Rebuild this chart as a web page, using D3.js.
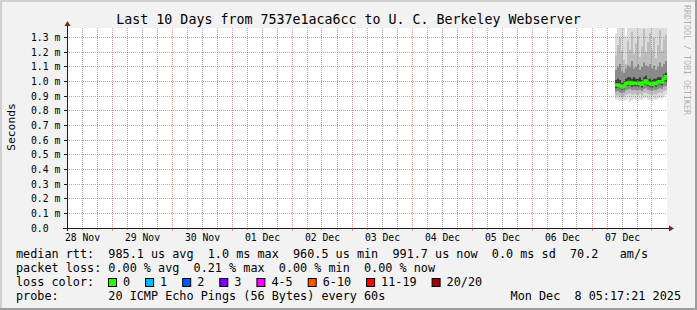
<!DOCTYPE html>
<html>
<head>
<meta charset="utf-8">
<script src="https://cdn.jsdelivr.net/npm/d3@7"></script>
<style>
  body { margin: 0; background: #f2f2f2; }
  text { font-family: "DejaVu Sans Mono", monospace; white-space: pre; }
</style>
</head>
<body>
<div id="chart"></div>
<script>
// chart size and plot box
var svgWidth = 697, svgHeight = 310;
var plotLeft = 67, plotRight = 667, plotTop = 28, plotBottom = 228;

// time window of the graph
var tStart = new Date(2025, 10, 28, 6, 0, 0);
var tEnd   = new Date(2025, 11, 8, 6, 0, 0);

// tick labels
var dayLabels = ["28 Nov", "29 Nov", "30 Nov", "01 Dec", "02 Dec", "03 Dec", "04 Dec", "05 Dec", "06 Dec", "07 Dec"];
var yTicks = [0, 0.1, 0.2, 0.3, 0.4, 0.5, 0.6, 0.7, 0.8, 0.9, 1.0, 1.1, 1.2, 1.3];
var yTickLabels = ["0.0", "0.1 m", "0.2 m", "0.3 m", "0.4 m", "0.5 m", "0.6 m", "0.7 m", "0.8 m", "0.9 m", "1.0 m", "1.1 m", "1.2 m", "1.3 m"];

// samples: first sample time and spacing (minutes)
var sampleStart = new Date(2025, 11, 7, 9, 12, 0);
var sampleStep = 48;

// rtt values in ms
var medianRtt = [0.975, 0.978, 0.972, 0.962, 0.968, 0.985, 0.990, 0.995, 0.985, 0.990, 0.988, 0.985, 0.990,
                 0.980, 0.995, 1.005, 0.990, 0.985, 0.980, 0.990, 0.985, 0.995, 1.000, 0.995, 1.020, 1.035];
var smokeMax = [1.33, 1.45, 1.50, 1.42, 1.38, 1.31, 1.45, 1.48, 1.50, 1.44, 1.46, 1.50, 1.41,
                1.47, 1.50, 1.43, 1.49, 1.50, 1.45, 1.50, 1.40, 1.47, 1.50, 1.44, 1.49, 1.50];
var smokeP90 = [1.18, 1.25, 1.30, 1.21, 1.15, 1.12, 1.28, 1.22, 1.34, 1.19, 1.26, 1.31, 1.17,
                1.24, 1.36, 1.20, 1.27, 1.33, 1.22, 1.30, 1.16, 1.25, 1.35, 1.21, 1.29, 1.32];
var smokeP75 = [1.08, 1.10, 1.12, 1.07, 1.06, 1.09, 1.11, 1.10, 1.14, 1.09, 1.10, 1.12, 1.08,
                1.10, 1.13, 1.11, 1.10, 1.12, 1.09, 1.11, 1.08, 1.10, 1.13, 1.10, 1.12, 1.14];
var smokeP60 = [1.01, 1.02, 1.01, 0.99, 1.00, 1.02, 1.03, 1.03, 1.02, 1.03, 1.02, 1.02, 1.03,
                1.01, 1.03, 1.04, 1.02, 1.02, 1.01, 1.02, 1.02, 1.03, 1.03, 1.03, 1.05, 1.06];
var smokeP40 = [0.955, 0.960, 0.950, 0.945, 0.950, 0.965, 0.970, 0.975, 0.965, 0.970, 0.968, 0.965, 0.970,
                0.960, 0.975, 0.980, 0.970, 0.965, 0.960, 0.970, 0.965, 0.975, 0.980, 0.975, 0.995, 1.000];
var smokeP25 = [0.930, 0.935, 0.925, 0.920, 0.925, 0.940, 0.945, 0.950, 0.940, 0.945, 0.940, 0.940, 0.945,
                0.935, 0.950, 0.955, 0.945, 0.940, 0.935, 0.945, 0.940, 0.950, 0.955, 0.950, 0.965, 0.970];
var smokeP10 = [0.900, 0.905, 0.895, 0.890, 0.900, 0.910, 0.915, 0.920, 0.910, 0.915, 0.910, 0.905, 0.915,
                0.905, 0.920, 0.925, 0.915, 0.910, 0.905, 0.915, 0.910, 0.920, 0.925, 0.920, 0.935, 0.940];
var smokeMin = [0.880, 0.875, 0.870, 0.865, 0.870, 0.875, 0.885, 0.860, 0.870, 0.880, 0.875, 0.865, 0.880,
                0.870, 0.885, 0.890, 0.875, 0.870, 0.865, 0.880, 0.875, 0.885, 0.890, 0.885, 0.900, 0.910];

// legend
var legendRtt   = "median rtt:  985.1 us avg  1.0 ms max  960.5 us min  991.7 us now  0.0 ms sd  70.2   am/s";
var legendLoss  = "packet loss: 0.00 % avg  0.21 % max  0.00 % min  0.00 % now";
var lossLabels  = ["0", "1", "2", "3", "4-5", "6-10", "11-19", "20/20"];
var lossColors  = ["#26ff00", "#00b8ff", "#0059ff", "#7e00ff", "#ff00ff", "#ff5500", "#ff0000", "#a10000"];
var probeText   = "probe:       20 ICMP Echo Pings (56 Bytes) every 60s";
var dateText    = "Mon Dec  8 05:17:21 2025";
var titleText   = "Last 10 Days from 7537e1aca6cc to U. C. Berkeley Webserver";

////////////////////////////////////////////////////////////////////////
var svg = d3.select('#chart')
  .append('svg')
  .attr('width', svgWidth)
  .attr('height', svgHeight);

// background + shaded border
svg.append('rect').attr('width', svgWidth).attr('height', svgHeight).attr('fill', '#f2f2f2');
svg.append('rect').attr('x', 0).attr('y', 0).attr('width', svgWidth).attr('height', 2).attr('fill', '#cfcfcf');
svg.append('rect').attr('x', 0).attr('y', 0).attr('width', 2).attr('height', svgHeight).attr('fill', '#cfcfcf');
svg.append('rect').attr('x', 0).attr('y', svgHeight - 2).attr('width', svgWidth).attr('height', 2).attr('fill', '#9e9e9e');
svg.append('rect').attr('x', svgWidth - 2).attr('y', 0).attr('width', 2).attr('height', svgHeight).attr('fill', '#9e9e9e');

// canvas
svg.append('rect')
  .attr('x', plotLeft).attr('y', plotTop)
  .attr('width', plotRight - plotLeft).attr('height', plotBottom - plotTop)
  .attr('fill', '#ffffff');

var x = d3.scaleTime().domain([tStart, tEnd]).range([plotLeft, plotRight]);
var y = d3.scaleLinear().domain([0, 1.366]).range([plotBottom, plotTop]);

// build rows
var rows = medianRtt.map(function(m, i) {
  return {
    t: d3.timeMinute.offset(sampleStart, i * sampleStep),
    med: m, max: smokeMax[i], p90: smokeP90[i], p75: smokeP75[i], p60: smokeP60[i],
    p40: smokeP40[i], p25: smokeP25[i], p10: smokeP10[i], min: smokeMin[i]
  };
});
// closing point so the last step has a width
var last = rows[rows.length - 1];
rows.push(Object.assign({}, last, {t: d3.timeMinute.offset(last.t, sampleStep)}));

svg.append('clipPath').attr('id', 'clip')
  .append('rect')
  .attr('x', plotLeft).attr('y', plotTop)
  .attr('width', plotRight - plotLeft).attr('height', plotBottom - plotTop);

var plot = svg.append('g').attr('clip-path', 'url(#clip)');

// smoke bands, outer to inner
var bands = [
  {lo: 'min', hi: 'max', color: '#dcdcdc'},
  {lo: 'p10', hi: 'p90', color: '#bdbdbd'},
  {lo: 'p25', hi: 'p75', color: '#8a8a8a'},
  {lo: 'p40', hi: 'p60', color: '#3c3c3c'}
];
bands.forEach(function(b) {
  var area = d3.area()
    .curve(d3.curveStepAfter)
    .x(function(d) { return x(d.t); })
    .y0(function(d) { return y(d[b.lo]); })
    .y1(function(d) { return y(d[b.hi]); });
  plot.append('path')
    .datum(rows)
    .attr('fill', b.color)
    .attr('d', area);
});

// grid
var grid = svg.append('g');
var minorTimes = d3.timeHour.every(6).range(tStart, tEnd).filter(function(t) { return t.getHours() !== 0; });
var majorTimes = d3.timeDay.range(tStart, tEnd);

grid.selectAll('line.vminor').data(minorTimes).enter().append('line')
  .attr('x1', function(d) { return Math.floor(x(d)) + 0.5; })
  .attr('x2', function(d) { return Math.floor(x(d)) + 0.5; })
  .attr('y1', plotTop).attr('y2', plotBottom)
  .attr('stroke', 'rgba(143,143,143,0.75)')
  .attr('stroke-dasharray', '1,1');

grid.selectAll('line.vmajor').data(majorTimes).enter().append('line')
  .attr('x1', function(d) { return Math.floor(x(d)) + 0.5; })
  .attr('x2', function(d) { return Math.floor(x(d)) + 0.5; })
  .attr('y1', plotTop).attr('y2', plotBottom)
  .attr('stroke', 'rgba(222,79,79,0.6)')
  .attr('stroke-dasharray', '1,1');

grid.selectAll('line.hmajor').data(yTicks.slice(1)).enter().append('line')
  .attr('x1', plotLeft).attr('x2', plotRight)
  .attr('y1', function(d) { return Math.floor(y(d)) + 0.5; })
  .attr('y2', function(d) { return Math.floor(y(d)) + 0.5; })
  .attr('stroke', 'rgba(222,79,79,0.6)')
  .attr('stroke-dasharray', '1,1');

// median line
var medLine = d3.line()
  .curve(d3.curveStepAfter)
  .x(function(d) { return x(d.t); })
  .y(function(d) { return y(d.med); });
plot.append('path')
  .datum(rows)
  .attr('fill', 'none')
  .attr('stroke', lossColors[0])
  .attr('stroke-width', 3)
  .attr('d', medLine);

// axis ticks (small marks on the axes)
var axisCol = '#1f1f1f';
svg.selectAll('line.ytick').data(yTicks).enter().append('line')
  .attr('x1', plotLeft - 3).attr('x2', plotLeft)
  .attr('y1', function(d) { return Math.floor(y(d)) + 0.5; })
  .attr('y2', function(d) { return Math.floor(y(d)) + 0.5; })
  .attr('stroke', axisCol);
svg.selectAll('line.xminortick').data(minorTimes).enter().append('line')
  .attr('x1', function(d) { return Math.floor(x(d)) + 0.5; })
  .attr('x2', function(d) { return Math.floor(x(d)) + 0.5; })
  .attr('y1', plotBottom).attr('y2', plotBottom + 2)
  .attr('stroke', 'rgba(143,143,143,0.75)');
svg.selectAll('line.xmajortick').data(majorTimes).enter().append('line')
  .attr('x1', function(d) { return Math.floor(x(d)) + 0.5; })
  .attr('x2', function(d) { return Math.floor(x(d)) + 0.5; })
  .attr('y1', plotBottom).attr('y2', plotBottom + 3)
  .attr('stroke', 'rgba(222,79,79,0.6)');

// axis lines
svg.append('line')
  .attr('x1', plotLeft - 4).attr('x2', plotRight + 3)
  .attr('y1', plotBottom + 0.5).attr('y2', plotBottom + 0.5)
  .attr('stroke', axisCol);
svg.append('line')
  .attr('x1', plotLeft + 0.5).attr('x2', plotLeft + 0.5)
  .attr('y1', plotBottom + 3).attr('y2', plotTop - 3)
  .attr('stroke', axisCol);

// arrows
var arrowCol = 'rgb(128,31,31)';
svg.append('path')
  .attr('d', 'M' + (plotRight + 2) + ',' + (plotBottom - 2.5) + 'L' + (plotRight + 7) + ',' + (plotBottom + 0.5) + 'L' + (plotRight + 2) + ',' + (plotBottom + 3.5) + 'Z')
  .attr('fill', arrowCol);
svg.append('path')
  .attr('d', 'M' + (plotLeft - 2.5) + ',' + (plotTop - 2) + 'L' + (plotLeft + 0.5) + ',' + (plotTop - 7) + 'L' + (plotLeft + 3.5) + ',' + (plotTop - 2) + 'Z')
  .attr('fill', arrowCol);

// y axis labels
var yAxis = d3.axisLeft(y)
  .tickValues(yTicks)
  .tickSize(0)
  .tickFormat(function(d, i) { return yTickLabels[i]; });
var yg = svg.append('g')
  .attr('transform', 'translate(' + plotLeft + ',0)')
  .call(yAxis);
yg.select('.domain').remove();
yg.selectAll('text')
  .attr('x', -36)
  .attr('dy', null)
  .attr('y', 3.5)
  .attr('text-anchor', 'start')
  .style('font-family', '"DejaVu Sans Mono", monospace')
  .style('font-size', '9.75px')
  .attr('fill', '#000');
yg.selectAll('.tick').attr('transform', function(d) { return 'translate(0,' + (Math.floor(y(d)) + 0.5) + ')'; });

// x axis labels, at noon
var noonTimes = dayLabels.map(function(l, i) { return d3.timeHour.offset(d3.timeDay.offset(d3.timeDay.floor(tStart), i), 12); });
var xAxis = d3.axisBottom(x)
  .tickValues(noonTimes)
  .tickSize(0)
  .tickFormat(function(d, i) { return dayLabels[i]; });
var xg = svg.append('g')
  .attr('transform', 'translate(0,' + plotBottom + ')')
  .call(xAxis);
xg.select('.domain').remove();
xg.selectAll('text')
  .attr('y', 13.3)
  .attr('dy', null)
  .style('font-family', '"DejaVu Sans Mono", monospace')
  .style('font-size', '9.75px')
  .attr('fill', '#000');

// title
svg.append('text')
  .attr('x', svgWidth / 2).attr('y', 24)
  .attr('text-anchor', 'middle')
  .style('font-size', '13.3px')
  .attr('fill', '#000')
  .text(titleText);

// vertical label
svg.append('text')
  .attr('transform', 'translate(14.5,127) rotate(-90)')
  .attr('text-anchor', 'middle')
  .style('font-size', '11.3px')
  .attr('fill', '#000')
  .text('Seconds');

// watermark
svg.append('text')
  .attr('transform', 'translate(683.5,5) rotate(90)')
  .style('font-size', '8.3px')
  .attr('fill', 'rgba(0,0,0,0.3)')
  .text('RRDTOOL / TOBI OETIKER');

// legend
var legFont = '11.8px';
var charW = 7.1;
svg.append('text').attr('x', 16).attr('y', 258).style('font-size', legFont).attr('fill', '#000').text(legendRtt);
svg.append('text').attr('x', 16).attr('y', 272).style('font-size', legFont).attr('fill', '#000').text(legendLoss);
svg.append('text').attr('x', 16).attr('y', 286).style('font-size', legFont).attr('fill', '#000').text('loss color:');
svg.append('text').attr('x', 16).attr('y', 300).style('font-size', legFont).attr('fill', '#000').text(probeText);
svg.append('text').attr('x', 681).attr('y', 300).attr('text-anchor', 'end').style('font-size', legFont).attr('fill', '#000').text(dateText);

var bx = 108.5;
lossLabels.forEach(function(lab, i) {
  svg.append('rect')
    .attr('x', bx).attr('y', 278.5)
    .attr('width', 8).attr('height', 8)
    .attr('fill', lossColors[i])
    .attr('stroke', '#000');
  var tx = bx + 14.5;
  svg.append('text').attr('x', tx).attr('y', 286).style('font-size', legFont).attr('fill', '#000').text(lab);
  bx = tx + lab.length * charW + 15.5;
});
</script>
</body>
</html>
